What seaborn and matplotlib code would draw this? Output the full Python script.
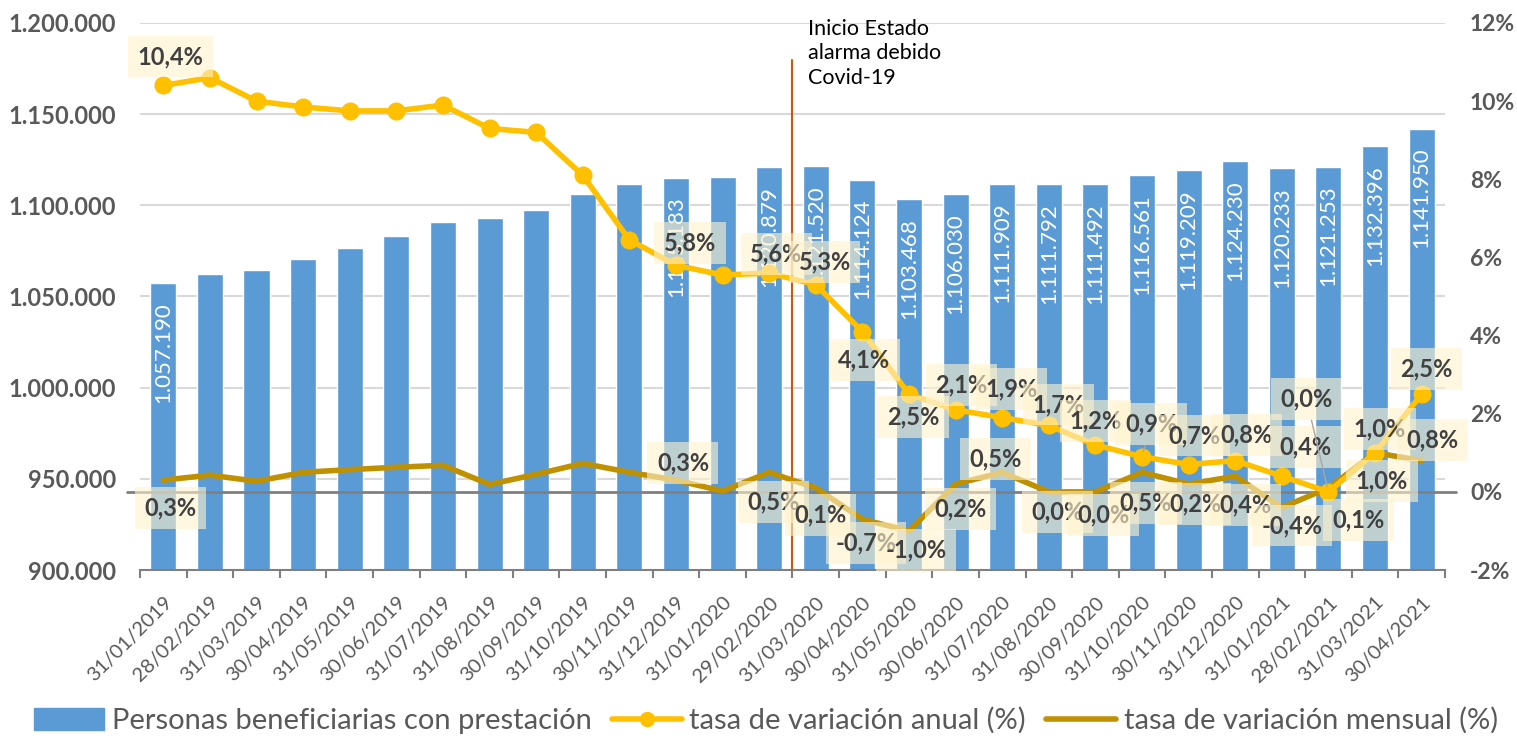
import numpy as np
import pandas as pd
import matplotlib
matplotlib.use("Agg")
import matplotlib.pyplot as plt
import matplotlib.transforms as mtransforms
from matplotlib.lines import Line2D
from matplotlib.patches import Patch
import seaborn as sns

# Datos
fechas = ["31/01/2019", "28/02/2019", "31/03/2019", "30/04/2019", "31/05/2019", "30/06/2019",
          "31/07/2019", "31/08/2019", "30/09/2019", "31/10/2019", "30/11/2019", "31/12/2019",
          "31/01/2020", "29/02/2020", "31/03/2020", "30/04/2020", "31/05/2020", "30/06/2020",
          "31/07/2020", "31/08/2020", "30/09/2020", "31/10/2020", "30/11/2020", "31/12/2020",
          "31/01/2021", "28/02/2021", "31/03/2021", "30/04/2021"]

beneficiarios = [1057190, 1062200, 1064400, 1070450, 1076500, 1083300, 1090850, 1093050,
                 1097450, 1106280, 1111790, 1115183, 1115300, 1120879, 1121520, 1114124,
                 1103468, 1106030, 1111909, 1111792, 1111492, 1116561, 1119209, 1124230,
                 1120233, 1121253, 1132396, 1141950]

anual = [10.4, 10.6, 10.0, 9.85, 9.75, 9.75, 9.9, 9.3, 9.2, 8.1, 6.45, 5.8, 5.55, 5.6,
         5.3, 4.1, 2.5, 2.1, 1.9, 1.7, 1.2, 0.9, 0.7, 0.8, 0.4, 0.0, 1.0, 2.5]

mensual = [0.3, 0.43, 0.27, 0.5, 0.57, 0.63, 0.68, 0.19, 0.45, 0.73, 0.5, 0.3, 0.02, 0.5,
           0.1, -0.7, -1.0, 0.2, 0.5, 0.0, 0.0, 0.5, 0.2, 0.4, -0.4, 0.1, 1.0, 0.8]

# meses con etiqueta de datos
etiquetados = [0, 11, 13, 14, 15, 16, 17, 18, 19, 20, 21, 22, 23, 24, 25, 26, 27]

# desplazamiento de las etiquetas (pixeles, y hacia abajo)
desp_anual = {0: (7, -29), 11: (14, -22), 13: (7, -19), 14: (9, -23), 15: (2, 28),
              16: (4, 23), 17: (6, -25), 18: (9, -29), 19: (10, -21), 20: (0, -24),
              21: (9, -33), 22: (6, -29), 23: (11, -26), 24: (24, -29), 25: (-22, -93),
              26: (5, -24), 27: (5, -25)}
desp_mensual = {0: (7, 28), 11: (7, -17), 13: (4, 30), 14: (5, 27), 15: (4, 24),
                16: (7, 19), 17: (5, 25), 18: (-7, -13), 19: (9, 20), 20: (8, 23),
                21: (4, 31), 22: (7, 20), 23: (10, 29), 24: (10, 18), 25: (30, 32),
                26: (7, 28), 27: (11, -21)}

azul = "#5B9BD5"
amarillo = "#FFC000"
oro = "#BF9000"
gris = "#595959"

sns.set_style("white")
plt.rcParams["font.family"] = ["Lato", "DejaVu Sans"]

df = pd.DataFrame({"fecha": fechas, "beneficiarios": beneficiarios,
                   "anual": anual, "mensual": mensual})
n = len(fechas)

fig = plt.figure(figsize=(15.17, 7.36), dpi=100)
ax = fig.add_axes([0.0923, 0.2255, 0.8602, 0.7433])

sns.barplot(data=df, x="fecha", y="beneficiarios", color=azul, saturation=1,
            width=0.56, ax=ax, zorder=2)
ax.set_ylim(900000, 1200000)
ax.set_xlim(-0.5, n - 0.5)
yt = np.arange(900000, 1200001, 50000)
ax.set_yticks(yt)
ax.set_yticklabels([f"{v:,}".replace(",", ".") for v in yt], fontsize=17,
                   fontweight="bold", color=gris)
for v in yt[1:]:
    ax.axhline(v, color="#D9D9D9", lw=1.5, zorder=0)
ax.set_xlabel("")
ax.set_ylabel("")
for s in ["left", "right", "top"]:
    ax.spines[s].set_visible(False)
ax.spines["bottom"].set_color("#7F7F7F")
ax.spines["bottom"].set_linewidth(1.5)
ax.tick_params(axis="y", length=0, pad=17)

# etiquetas de las barras
for i in etiquetados:
    v = beneficiarios[i]
    ax.annotate(f"{v:,}".replace(",", "."), xy=(i, v), xytext=(0, -19),
                textcoords="offset pixels", rotation=90, ha="center", va="top",
                color="white", fontsize=16, zorder=3)

ax2 = ax.twinx()
sns.pointplot(data=df, x="fecha", y="mensual", color=oro, marker="", linewidth=4,
              errorbar=None, ax=ax2)
sns.pointplot(data=df, x="fecha", y="anual", color=amarillo, marker="o", markersize=10,
              linewidth=4, errorbar=None, ax=ax2)
ax2.set_ylim(-2, 12)
ax2.set_xlim(-0.5, n - 0.5)
yt2 = np.arange(-2, 13, 2)
ax2.set_yticks(yt2)
ax2.set_yticklabels([f"{v}%" for v in yt2], fontsize=16.5, fontweight="bold", color=gris)
ax2.tick_params(axis="y", length=0, pad=18)
ax2.set_ylabel("")
ax2.set_xlabel("")
for s in ["left", "right", "top", "bottom"]:
    ax2.spines[s].set_visible(False)
ax2.axhline(0, xmin=-0.01, xmax=1.0085, color="#7F7F7F", lw=2, clip_on=False, zorder=1)

# linea del estado de alarma
ax2.axvline(13.5, ymax=0.932, color="#C55A11", lw=1.5, zorder=1)
trans = mtransforms.blended_transform_factory(ax2.transData, ax2.transAxes)
ax2.text(13.83, 1.008, "Inicio Estado\nalarma debido\nCovid-19", transform=trans,
         ha="left", va="top", fontsize=15.5, color="black", linespacing=1.3)

caja = dict(boxstyle="square,pad=0.4", fc="#FFF2CC", ec="none", alpha=0.6)
for serie, desp in [(anual, desp_anual), (mensual, desp_mensual)]:
    for i in etiquetados:
        dx, dy = desp[i]
        flecha = None
        if serie is anual and i in (21, 25):
            flecha = dict(arrowstyle="-", color="#A6A6A6", lw=1, shrinkA=0, shrinkB=4)
        ax2.annotate(f"{serie[i]:.1f}%".replace(".", ","), xy=(i, serie[i]),
                     xytext=(dx, -dy), textcoords="offset pixels", ha="center",
                     va="center", fontsize=17, fontweight="bold", color="#404040",
                     bbox=caja, arrowprops=flecha, zorder=5)

# eje x
ax.set_xticks(range(n))
ax.set_xticklabels(fechas, rotation=45, ha="right", rotation_mode="anchor",
                   fontsize=14.5, color=gris)
ax.set_xticks(np.arange(-0.5, n, 1), minor=True)
ax.tick_params(axis="x", which="major", length=0, pad=17)
ax.tick_params(axis="x", which="minor", length=6, width=1.5, color="#7F7F7F",
               direction="out", bottom=True)

handles = [Patch(color=azul),
           Line2D([], [], color=amarillo, lw=4, marker="o", markersize=10),
           Line2D([], [], color=oro, lw=4)]
labels = ["Personas beneficiarias con prestación", "tasa de variación anual (%)",
          "tasa de variación mensual (%)"]
fig.legend(handles, labels, loc="lower center", bbox_to_anchor=(0.505, -0.033), ncol=3,
           frameon=False, fontsize=21, labelcolor=gris, handlelength=2.4,
           handleheight=0.75, columnspacing=0.7, handletextpad=0.25)

fig.savefig("out.png", dpi=100)
